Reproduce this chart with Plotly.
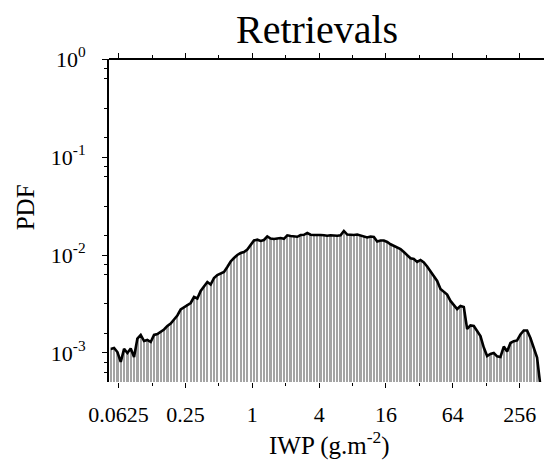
import plotly.graph_objects as go

# ---- data ----------------------------------------------------------------
# Histogram bins: log10(IWP / g m^-2), equally spaced
BIN_LOG10_START = -1.29
BIN_LOG10_STEP = 0.03

PDF = [
    1.10e-3, 1.125e-3, 1.023e-3, 8.10e-4, 1.10e-3, 1.00e-3, 1.11e-3, 9.10e-4,
    1.406e-3, 1.528e-3, 1.325e-3, 1.358e-3, 1.295e-3, 1.528e-3, 1.563e-3, 1.656e-3,
    1.738e-3, 1.888e-3, 2.00e-3, 2.198e-3, 2.415e-3, 2.783e-3, 2.946e-3, 3.126e-3,
    3.238e-3, 3.727e-3, 3.60e-3, 4.295e-3, 4.71e-3, 5.30e-3, 5.00e-3, 5.82e-3,
    6.25e-3, 6.44e-3, 6.71e-3, 7.55e-3, 8.59e-3, 9.31e-3, 1.00e-2, 1.047e-2,
    1.073e-2, 1.138e-2, 1.265e-2, 1.406e-2, 1.432e-2, 1.39e-2, 1.422e-2, 1.545e-2,
    1.473e-2, 1.456e-2, 1.473e-2, 1.49e-2, 1.463e-2, 1.588e-2, 1.563e-2, 1.541e-2,
    1.534e-2, 1.60e-2, 1.607e-2, 1.676e-2, 1.61e-2, 1.60e-2, 1.61e-2, 1.60e-2,
    1.592e-2, 1.57e-2, 1.592e-2, 1.574e-2, 1.574e-2, 1.588e-2, 1.758e-2, 1.618e-2,
    1.60e-2, 1.60e-2, 1.618e-2, 1.581e-2, 1.534e-2, 1.51e-2, 1.545e-2, 1.527e-2,
    1.374e-2, 1.406e-2, 1.406e-2, 1.358e-2, 1.286e-2, 1.245e-2, 1.207e-2, 1.151e-2,
    1.073e-2, 9.88e-3, 9.25e-3, 9.10e-3, 8.49e-3, 8.89e-3, 8.38e-3, 7.63e-3,
    6.87e-3, 6.11e-3, 5.43e-3, 4.50e-3, 4.19e-3, 3.95e-3, 3.40e-3, 3.126e-3,
    2.81e-3, 3.02e-3, 2.946e-3, 1.758e-3, 1.91e-3, 1.888e-3, 1.698e-3, 1.49e-3,
    1.138e-3, 9.31e-4, 9.77e-4, 1.00e-3, 9.25e-4, 9.10e-4, 1.164e-3, 1.035e-3,
    1.265e-3, 1.319e-3, 1.343e-3, 1.545e-3, 1.698e-3, 1.698e-3, 1.422e-3, 1.138e-3,
    9.0e-4, 4.6e-4,
]

X_TICK_VALUES = [0.0625, 0.25, 1, 4, 16, 64, 256]
X_TICK_LABELS = ["0.0625", "0.25", "1", "4", "16", "64", "256"]
X_MINOR_VALUES = [0.03125, 0.125, 0.5, 2, 8, 32, 128, 512]
Y_TICK_VALUES = [1, 0.1, 0.01, 0.001]
Y_TICK_LABELS = ["10<sup>0</sup>", "10<sup>-1</sup>", "10<sup>-2</sup>", "10<sup>-3</sup>"]

TITLE = "Retrievals"
X_TITLE = "IWP (g.m<sup>-2</sup>)"
Y_TITLE = "PDF"

# ---- geometry of the bars (in data units on the log axis) ----------------
n = len(PDF)
GAP = 0.32  # fraction of each bin left blank
centers = [10 ** (BIN_LOG10_START + BIN_LOG10_STEP * (k + 0.5)) for k in range(n)]
vis_lo = [10 ** (BIN_LOG10_START + BIN_LOG10_STEP * (k + GAP / 2)) for k in range(n)]
vis_hi = [10 ** (BIN_LOG10_START + BIN_LOG10_STEP * (k + 1 - GAP / 2)) for k in range(n)]
offsets = [a - c for a, c in zip(vis_lo, centers)]
widths = [b - a for a, b in zip(vis_lo, vis_hi)]

FONT = "Liberation Serif"

fig = go.Figure()
fig.add_trace(go.Bar(
    x=centers, y=PDF, offset=offsets, width=widths, base=1e-6,
    marker=dict(color="#a4a4a4", line=dict(width=0)),
    showlegend=False, hoverinfo="skip",
))
fig.add_trace(go.Scatter(
    x=centers, y=PDF, mode="lines",
    line=dict(color="black", width=2.6),
    showlegend=False, hoverinfo="skip",
))

y_minor = [10 ** (d - f) for d in range(0, -4, -1) for f in (0.1, 0.2, 0.5, 0.8)]

fig.update_layout(
    width=544, height=463,
    margin=dict(l=109, r=0, t=59, b=81),
    paper_bgcolor="white", plot_bgcolor="white",
    font=dict(family=FONT, color="black", size=22),
    bargap=0,
    xaxis=dict(
        type="log", range=[-1.2907, 2.6273],
        showline=False, showgrid=False, zeroline=False,
        mirror="ticks",
        ticks="outside", ticklen=5, tickwidth=1.2, tickcolor="black",
        tickvals=X_TICK_VALUES, ticktext=X_TICK_LABELS,
        tickfont=dict(family=FONT, size=22),
        ticklabelstandoff=8,
        minor=dict(tickvals=X_MINOR_VALUES, ticks="outside", ticklen=3,
                   tickwidth=1.2, tickcolor="black", showgrid=False),
    ),
    yaxis=dict(
        type="log", range=[-3.296, 0],
        showline=True, linecolor="black", linewidth=2,
        showgrid=False, zeroline=False,
        ticks="outside", ticklen=5, tickwidth=1.2, tickcolor="black",
        tickvals=Y_TICK_VALUES, ticktext=Y_TICK_LABELS,
        tickfont=dict(family=FONT, size=22),
        ticklabelstandoff=12,
        minor=dict(tickvals=y_minor, ticks="outside", ticklen=3,
                   tickwidth=1.2, tickcolor="black", showgrid=False),
    ),
    shapes=[dict(type="line", xref="paper", yref="paper", x0=0, x1=1, y0=1, y1=1,
                 line=dict(color="black", width=2))],
    annotations=[
        dict(text=TITLE, xref="paper", yref="paper", x=0.478, y=1.09,
             xanchor="center", yanchor="middle", showarrow=False,
             font=dict(family=FONT, size=40)),
        dict(text=Y_TITLE, xref="paper", yref="paper", x=-0.19, y=0.542,
             xanchor="center", yanchor="middle", textangle=-90, showarrow=False,
             font=dict(family=FONT, size=25)),
        dict(text=X_TITLE, xref="paper", yref="paper", x=0.508, y=-0.19,
             xanchor="center", yanchor="middle", showarrow=False,
             font=dict(family=FONT, size=25)),
    ],
)

fig.write_html("out.html")
